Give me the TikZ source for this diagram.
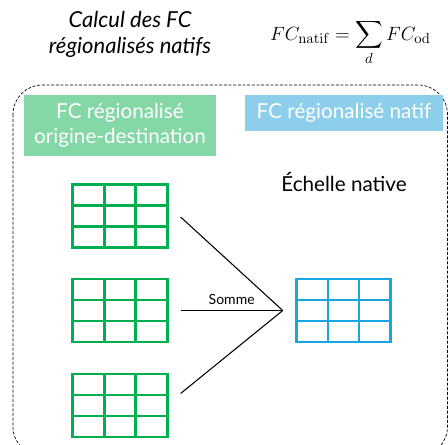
\documentclass[tikz,border=0pt]{standalone}
\usepackage{amsmath}
\usepackage[no-math]{fontspec}
\setmainfont{Lato}
\usetikzlibrary{positioning,calc}

\definecolor{odgreen}{RGB}{0,176,80}
\definecolor{natblue}{RGB}{24,166,222}
\definecolor{odfill}{RGB}{132,215,166}
\definecolor{natfill}{RGB}{141,206,234}

\tikzset{
  label box/.style={rectangle, inner sep=0pt, text=white, align=center, font=\fontsize{15.5}{18.5}\selectfont},
  od grid/.style={rectangle, minimum width=70.5pt, minimum height=47pt, inner sep=0pt},
  nat grid/.style={od grid, minimum width=69.75pt},
  cell line/.style={line width=1.9pt, line join=miter},
  sum line/.style={line width=0.8pt, black}
}

% a 3x3 table drawn inside the named node #1
\newcommand{\tablegrid}[2]{%
  \draw [cell line, color=#2] (#1.north west) rectangle (#1.south east)
    ($(#1.north west)!1/3!(#1.north east)$) -- ($(#1.south west)!1/3!(#1.south east)$)
    ($(#1.north west)!2/3!(#1.north east)$) -- ($(#1.south west)!2/3!(#1.south east)$)
    ($(#1.north west)!1/3!(#1.south west)$) -- ($(#1.north east)!1/3!(#1.south east)$)
    ($(#1.north west)!2/3!(#1.south west)$) -- ($(#1.north east)!2/3!(#1.south east)$);}

\begin{document}
\begin{tikzpicture}[x=0.75pt, y=-0.75pt]
\useasboundingbox (0,0) rectangle (448,444);

% title and formula
\node (title) at (130,34) [align=center, font=\itshape\fontsize{16.5}{19.5}\selectfont] {Calcul des FC\\ régionalisés natifs};
\node (formula) [anchor=base east, inner sep=0pt] at (431,40) {\fontsize{15.5}{18}\selectfont$FC_{\mathrm{natif}} = \displaystyle\sum_{d} FC_{\mathrm{od}}$};

% dashed frame
\draw [line width=0.5pt, dash pattern=on 2.2pt off 1.3pt, rounded corners=22] (13,85) rectangle (447.5,456);

% headers
\node (odlabel) [label box, fill=odfill, minimum width=144pt, minimum height=45.75pt] at (120,125.5) {FC régionalisé\\origine-destination};
\node (natlabel) [label box, fill=natfill, minimum width=148.5pt, minimum height=27pt] at (344,113) {FC régionalisé natif};
\node (scale) at (344,182) {\fontsize{15.5}{18}\selectfont Échelle native};

% origin-destination tables
\foreach \i/\ypos in {1/216, 2/310.5, 3/405.5} {
  \node (od\i) [od grid] at (120,\ypos) {};
  \tablegrid{od\i}{odgreen}
}

% native table
\node (nat) [nat grid] at (343.5,310.5) {};
\tablegrid{nat}{natblue}

% sum lines
\coordinate (sum) at ([xshift=-10.5pt]nat.west);
\draw [sum line] ([xshift=10pt,yshift=-0.75pt]od1.east) -- (sum);
\draw [sum line] ([xshift=10pt]od2.east) -- node [above=1pt, font=\fontsize{10.5}{12}\selectfont] (somme) {Somme} (sum);
\draw [sum line] ([xshift=10pt,yshift=9pt]od3.east) -- (sum);
\end{tikzpicture}
\end{document}
